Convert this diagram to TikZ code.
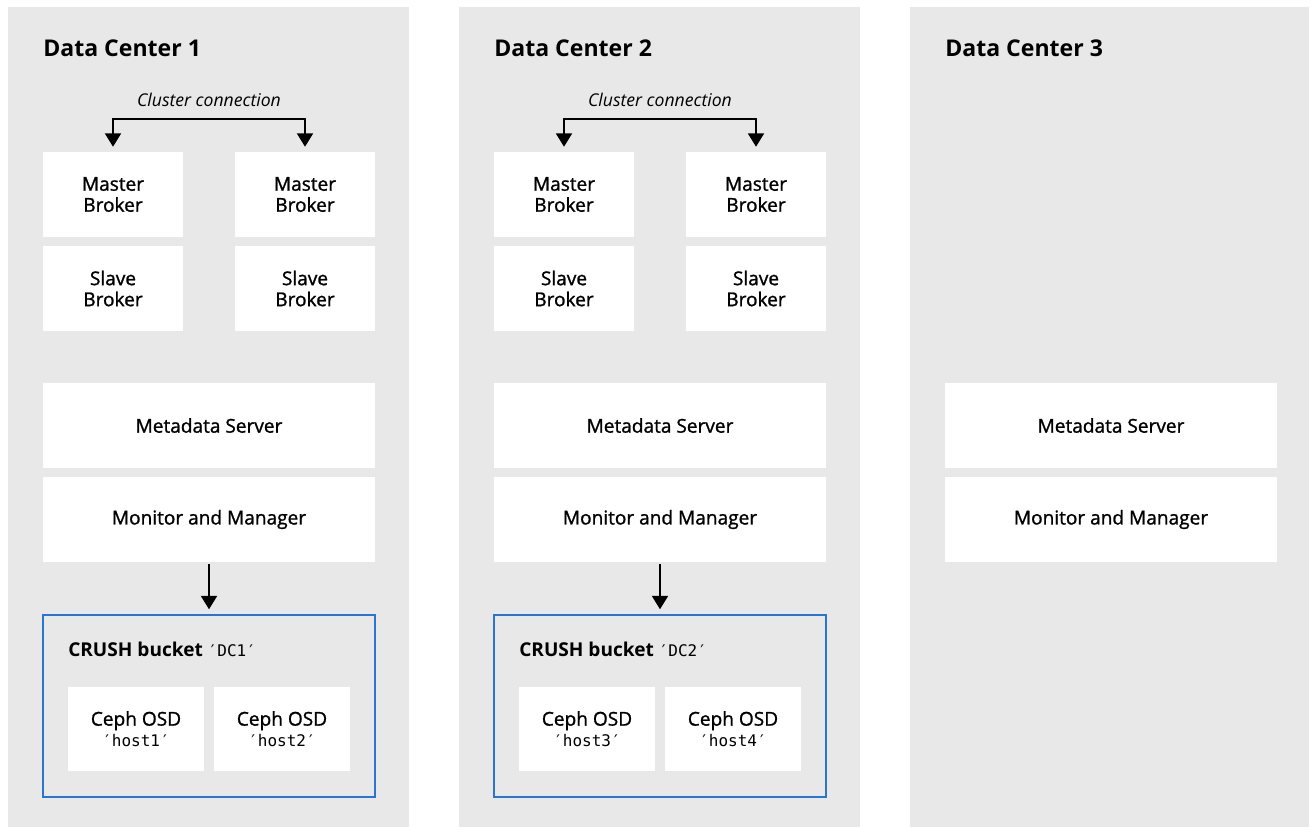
\documentclass[tikz,border=0pt]{standalone}
\usepackage{fontspec}
\setmainfont{Open Sans}
\setmonofont{DejaVu Sans Mono}
\newfontfamily\medfont[FakeBold=1.2]{Open Sans}
\usetikzlibrary{arrows.meta}
\definecolor{panel}{HTML}{E8E8E8}
\definecolor{bucketblue}{HTML}{2B74D0}
\begin{document}
\begin{tikzpicture}[x=0.75pt,y=-0.75pt,
  panelbox/.style={fill=panel,draw=none},
  wbox/.style={fill=white,draw=none,inner sep=0pt,align=center,
    minimum width=105pt,minimum height=63.75pt,
    font=\medfont\fontsize{14.3}{15.75}\selectfont},
  widebox/.style={wbox,minimum width=249pt},
  osdbox/.style={wbox,minimum width=102pt,minimum height=63pt},
  bucketbox/.style={draw=bucketblue,line width=1.1pt,fill=none,inner sep=0pt,
    minimum width=249pt,minimum height=136.5pt},
  title/.style={anchor=west,inner sep=0pt,font=\fontsize{17.3}{20}\selectfont\bfseries},
  conlabel/.style={inner sep=0pt,font=\fontsize{13.2}{15}\selectfont\itshape},
  bucketlabel/.style={anchor=west,inner sep=0pt,font=\fontsize{14.3}{16}\selectfont},
  arr/.style={line width=1.3pt,-{Triangle[width=12pt,length=10pt]}},
  dblarr/.style={line width=1.3pt,{Triangle[width=12pt,length=10pt]}-{Triangle[width=12pt,length=10pt]}}
]
\useasboundingbox (0,0) rectangle (1312,827);
\fill[white] (0,0) rectangle (1312,827);
% panels
\fill[panelbox] (8,7) rectangle (409,827);
\fill[panelbox] (459,7) rectangle (860,827);
\fill[panelbox] (910,7) rectangle (1309,827);

\foreach \i/\dx in {1/0,2/451}{
\begin{scope}[shift={(\dx,0)}]
  \node[title] (t\i) at (43,48) {Data Center \i};
  \node[conlabel] (cl\i) at (209,100) {Cluster connection};
  \node[wbox] (mbA\i) at (113,194.5) {Master\\Broker};
  \node[wbox] (mbB\i) at (305,194.5) {Master\\Broker};
  \node[wbox] (sbA\i) at (113,288.5) {Slave\\Broker};
  \node[wbox] (sbB\i) at (305,288.5) {Slave\\Broker};
  \node[widebox] (md\i) at (209,425.5) {Metadata Server};
  \node[widebox] (mon\i) at (209,519.5) {Monitor and Manager};
  \node[bucketbox] (bk\i) at (209,706) {};
  \node[bucketlabel] (bl\i) at (68,649) {\textbf{CRUSH bucket} {\ttfamily\fontsize{12}{14}\selectfont ′DC\i′}};
  \pgfmathtruncatemacro{\ha}{2*\i-1}
  \pgfmathtruncatemacro{\hb}{2*\i}
  \node[osdbox] (osdA\i) at (136,729) {Ceph OSD\\{\ttfamily\fontsize{12}{14}\selectfont ′host\ha′}};
  \node[osdbox] (osdB\i) at (282,729) {Ceph OSD\\{\ttfamily\fontsize{12}{14}\selectfont ′host\hb′}};
  \draw[dblarr,shorten <=3.75pt,shorten >=3.75pt] (mbA\i.north) -- ++(0,-33) -| (mbB\i.north);
  \draw[arr,shorten <=1.5pt,shorten >=3.75pt] (mon\i.south) -- (bk\i.north);
\end{scope}
}
\begin{scope}[shift={(902,0)}]
  \node[title] (t3) at (43,48) {Data Center 3};
  \node[widebox] (md3) at (209,425.5) {Metadata Server};
  \node[widebox] (mon3) at (209,519.5) {Monitor and Manager};
\end{scope}
\end{tikzpicture}
\end{document}
